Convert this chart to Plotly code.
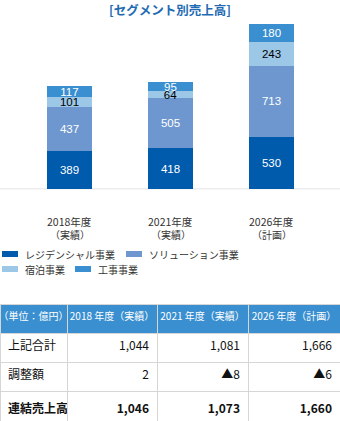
import plotly.graph_objects as go

# Segment sales (100 million yen)
years = ["2018年度", "2021年度", "2026年度"]
year_notes = ["（実績）", "（実績）", "（計画）"]
segments = ["レジデンシャル事業", "ソリューション事業", "宿泊事業", "工事事業"]
residential = [389, 418, 530]
solution = [437, 505, 713]
hotel = [101, 64, 243]
construction = [117, 95, 180]
seg_values = [residential, solution, hotel, construction]
seg_colors = ["#005bac", "#6e97cf", "#9cc7e6", "#3a8fd0"]
text_colors = ["white", "white", "black", "white"]

# Summary table
table_header = ["（単位：億円）", "2018\u00a0年度（実績）", "2021\u00a0年度（実績）", "2026\u00a0年度（計画）"]
row_labels = ["上記合計", "調整額", "<b>連結売上高</b>"]
col_2018 = ["1,044", "2", "<b>1,046</b>"]
col_2021 = ["1,081", "▲8", "<b>1,073</b>"]
col_2026 = ["1,666", "▲6", "<b>1,660</b>"]

W, H = 340, 421
FONT = "Noto Sans CJK JP, Noto Sans, sans-serif"


def py(px):
    """Convert a pixel row (from top) to paper y."""
    return 1 - px / H


fig = go.Figure()

for name, vals, col, tcol in zip(segments, seg_values, seg_colors, text_colors):
    fig.add_trace(go.Bar(
        x=years, y=vals, name=name,
        marker=dict(color=col, line=dict(width=0)),
        text=[str(v) for v in vals],
        textposition="inside", insidetextanchor="middle",
        textfont=dict(color=tcol, size=11.5, family="Liberation Sans, Arial, sans-serif"),
        showlegend=False, hoverinfo="skip",
    ))

fig.add_trace(go.Table(
    domain=dict(x=[0, 1], y=[0, py(304)]),
    columnwidth=[67, 90, 91, 92],
    header=dict(
        values=table_header,
        fill_color="#3a8fd0",
        line=dict(color="#d6d6d6", width=1),
        font=dict(color="white", size=10, family=FONT),
        align="center", height=29,
    ),
    cells=dict(
        values=[row_labels, col_2018, col_2021, col_2026],
        fill_color="white",
        line=dict(color="#d6d6d6", width=1),
        font=dict(color="#111111", size=12, family=FONT),
        align=["left", "right", "right", "right"], height=29,
    ),
))

annotations = [
    dict(text="<b>[セグメント別売上高]</b>", x=0.5, y=py(10), xref="paper", yref="paper",
         showarrow=False, font=dict(size=12.5, color="#1f6bb3", family=FONT),
         xanchor="center", yanchor="middle"),
]
for yr, note in zip(years, year_notes):
    annotations.append(dict(
        text=yr, x=yr, y=py(221.5), xref="x", yref="paper",
        showarrow=False, font=dict(size=10.5, color="#333333", family=FONT),
        xanchor="center", yanchor="middle",
    ))
    annotations.append(dict(
        text=note, x=yr, y=py(234.5), xref="x", yref="paper",
        showarrow=False, font=dict(size=10, color="#333333", family=FONT),
        xanchor="center", yanchor="middle",
    ))

# Legend: swatch + label pairs in two rows
legend_items = [
    (0, 2, 254), (1, 126, 254), (2, 2, 269), (3, 75, 269),
]
shapes = [
    dict(type="line", xref="paper", yref="y", x0=0, x1=1, y0=0, y1=0,
         line=dict(color="#dcdcdc", width=1.5), layer="below"),
]
for idx, x_px, y_px in legend_items:
    shapes.append(dict(type="rect", xref="paper", yref="paper",
                       x0=x_px / W, x1=(x_px + 16) / W, y0=py(y_px + 3), y1=py(y_px - 3),
                       fillcolor=seg_colors[idx], line=dict(width=0)))
    annotations.append(dict(text=segments[idx], x=(x_px + 21) / W, y=py(y_px),
                            xref="paper", yref="paper", showarrow=False,
                            xanchor="left", yanchor="middle",
                            font=dict(size=10, color="#333333", family=FONT)))

fig.update_layout(
    width=W, height=H,
    margin=dict(l=0, r=0, t=0, b=0),
    paper_bgcolor="white", plot_bgcolor="white",
    barmode="stack", bargap=0.554,
    uniformtext=dict(minsize=11.5, mode="show"),
    xaxis=dict(domain=[19 / W, 322 / W], showticklabels=False, showgrid=False,
               zeroline=False, showline=False, ticks=""),
    yaxis=dict(domain=[py(189.3), py(20.6)], range=[0, 1700], visible=False),
    annotations=annotations,
    shapes=shapes,
    font=dict(family=FONT),
)

fig.write_html("out.html")
